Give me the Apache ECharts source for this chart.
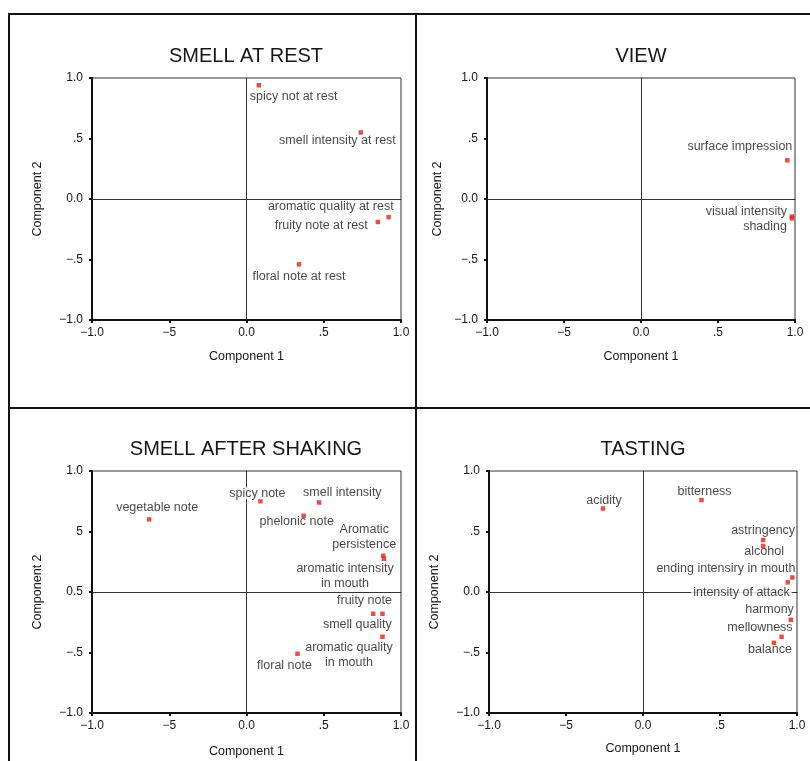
<!DOCTYPE html>
<html>
<head>
<meta charset="utf-8">
<script src="https://cdn.jsdelivr.net/npm/echarts@6/dist/echarts.min.js"></script>
<style>
  html, body { margin: 0; padding: 0; background: #fff; }
  #chart { width: 810px; height: 761px; }
</style>
</head>
<body>
<div id="chart"></div>
<script>
// Loadings on component 1 / component 2 for each group of descriptors
const restNames = ['spicy not at rest', 'smell intensity at rest', 'aromatic quality at rest', 'fruity note at rest', 'floral note at rest'];
const restC1 = [0.08, 0.74, 0.92, 0.85, 0.34];
const restC2 = [0.94, 0.55, -0.15, -0.19, -0.54];

const viewNames = ['surface impression', 'visual intensity', 'shading'];
const viewC1 = [0.95, 0.98, 0.98];
const viewC2 = [0.32, -0.145, -0.16];

const shakingNames = ['vegetable note', 'spicy note', 'smell intensity', 'phelonic note', 'Aromatic\npersistence',
  'aromatic intensity\nin mouth', 'fruity note', 'smell quality', 'aromatic quality\nin mouth', 'floral note'];
const shakingC1 = [-0.63, 0.09, 0.47, 0.37, 0.885, 0.89, 0.88, 0.82, 0.88, 0.33];
const shakingC2 = [0.60, 0.75, 0.74, 0.63, 0.30, 0.275, -0.18, -0.18, -0.37, -0.51];

const tastingNames = ['acidity', 'bitterness', 'astringency', 'alcohol', 'ending intensiry in mouth',
  'intensity of attack', 'harmony', 'mellowness', 'balance'];
const tastingC1 = [-0.26, 0.38, 0.78, 0.78, 0.97, 0.94, 0.96, 0.90, 0.85];
const tastingC2 = [0.69, 0.76, 0.43, 0.38, 0.12, 0.08, -0.23, -0.37, -0.42];

const xTickLabels = ['\u22121.0', '\u22125', '0.0', '.5', '1.0'];
const yTickLabels = ['\u22121.0', '\u2212.5', '0.0', '.5', '1.0'];
const shakingYTickLabels = ['\u22121.0', '\u2212.5', '0.5', '5', '1.0'];

const panelTitles = ['SMELL AT REST', 'VIEW', 'SMELL AFTER SHAKING', 'TASTING'];
const xAxisName = 'Component 1';
const yAxisName = 'Component 2';

// ---- layout and styling ----
const FONT = '"Liberation Sans", Arial, Helvetica, sans-serif';
const INK = '#161616';
const MARK = '#e2231a';

// label placement per point: [align, dx, dy, whiteBackground]
const restLabelPos = [['left', -9, 11], ['right', 35, 8], ['right', 5, -11], ['right', -10, 4], ['center', 0, 12]];
const viewLabelPos = [['right', 5, -14], ['right', -5, -5], ['right', -5, 8]];
const shakingLabelPos = [['center', 8, -12], ['center', -3, -8, true], ['left', -16, -10], ['center', -7, 6],
  ['center', -19, -19], ['center', -39, 17], ['center', -18, -13], ['right', 18.5, 11], ['center', -33.5, 18], ['center', -13, 12]];
const tastingLabelPos = [['center', 1, -8], ['center', 3, -8], ['center', 0, -9.5], ['center', 1, 6], ['right', 3, -8.5],
  ['right', 4, 10, true], ['right', 3, -10], ['right', 11, -9], ['right', 18, 6.5]];

const panels = [
  { names: restNames, c1: restC1, c2: restC2, pos: restLabelPos, yTicks: yTickLabels,
    grid: { left: 92, top: 78, width: 309, height: 242 }, titleX: 246, titleTop: 46, xGap: 30, yGap: 48 },
  { names: viewNames, c1: viewC1, c2: viewC2, pos: viewLabelPos, yTicks: yTickLabels,
    grid: { left: 487, top: 78, width: 308, height: 242 }, titleX: 641, titleTop: 46, xGap: 30, yGap: 43 },
  { names: shakingNames, c1: shakingC1, c2: shakingC2, pos: shakingLabelPos, yTicks: shakingYTickLabels,
    grid: { left: 92, top: 471, width: 309, height: 242 }, titleX: 246, titleTop: 439, xGap: 32, yGap: 48 },
  { names: tastingNames, c1: tastingC1, c2: tastingC2, pos: tastingLabelPos, yTicks: yTickLabels,
    grid: { left: 489, top: 471, width: 308, height: 242 }, titleX: 643, titleTop: 439, xGap: 29.5, yGap: 48 }
];

function tickFormatter(labels) {
  return v => labels[Math.round((v + 1) / 0.5)];
}

const option = {
  animation: false,
  textStyle: { fontFamily: FONT, color: INK },
  title: [], grid: [], xAxis: [], yAxis: [], series: [],
  graphic: [
    // frame around the four panels
    { type: 'line', shape: { x1: 8, y1: 14, x2: 810, y2: 14 }, style: { stroke: '#111', lineWidth: 2 } },
    { type: 'line', shape: { x1: 9, y1: 13, x2: 9, y2: 761 }, style: { stroke: '#111', lineWidth: 2 } },
    { type: 'line', shape: { x1: 416, y1: 13, x2: 416, y2: 761 }, style: { stroke: '#111', lineWidth: 2 } },
    { type: 'line', shape: { x1: 8, y1: 408, x2: 810, y2: 408 }, style: { stroke: '#111', lineWidth: 2 } }
  ]
};

panels.forEach((p, i) => {
  option.title.push({
    text: panelTitles[i], left: p.titleX, top: p.titleTop, textAlign: 'center', padding: 0,
    textStyle: { fontSize: 20, fontWeight: 'normal', color: INK, fontFamily: FONT }
  });
  option.grid.push(Object.assign({ show: true, borderColor: '#333', borderWidth: 1, backgroundColor: 'transparent' }, p.grid));

  // main axes (bottom / left) with ticks and labels
  option.xAxis.push({
    gridIndex: i, type: 'value', min: -1, max: 1, interval: 0.5, position: 'bottom',
    name: xAxisName, nameLocation: 'middle', nameGap: p.xGap,
    nameTextStyle: { fontSize: 12.5, color: INK, fontFamily: FONT },
    axisLine: { show: true, onZero: false, lineStyle: { color: '#111', width: 2 } },
    axisTick: { show: true, length: 3, lineStyle: { color: '#111', width: 2 } },
    axisLabel: { fontSize: 12, color: INK, margin: 7, formatter: tickFormatter(xTickLabels), fontFamily: FONT },
    splitLine: { show: false }
  });
  // zero reference line (horizontal)
  option.xAxis.push({
    gridIndex: i, type: 'value', min: -1, max: 1, interval: 0.5, position: 'top',
    axisLine: { show: true, onZero: true, lineStyle: { color: '#333', width: 1 } },
    axisTick: { show: false }, axisLabel: { show: false }, splitLine: { show: false }
  });
  option.yAxis.push({
    gridIndex: i, type: 'value', min: -1, max: 1, interval: 0.5, position: 'left',
    name: yAxisName, nameLocation: 'middle', nameGap: p.yGap,
    nameTextStyle: { fontSize: 12.5, color: INK, fontFamily: FONT },
    axisLine: { show: true, onZero: false, lineStyle: { color: '#111', width: 2 } },
    axisTick: { show: true, length: 3, lineStyle: { color: '#111', width: 2 } },
    axisLabel: { fontSize: 12, color: INK, margin: 9, formatter: tickFormatter(p.yTicks), fontFamily: FONT },
    splitLine: { show: false }
  });
  // zero reference line (vertical)
  option.yAxis.push({
    gridIndex: i, type: 'value', min: -1, max: 1, interval: 0.5, position: 'right',
    axisLine: { show: true, onZero: true, lineStyle: { color: '#333', width: 1 } },
    axisTick: { show: false }, axisLabel: { show: false }, splitLine: { show: false }
  });

  option.series.push({
    type: 'scatter', xAxisIndex: 2 * i, yAxisIndex: 2 * i,
    symbol: 'rect', symbolSize: 4.5, itemStyle: { color: MARK },
    emphasis: { disabled: true },
    data: p.names.map((n, k) => {
      const pos = p.pos[k];
      return {
        name: n, value: [p.c1[k], p.c2[k]],
        label: {
          show: true, formatter: '{b}', position: ['50%', '50%'],
          align: pos[0], verticalAlign: 'middle', offset: [pos[1], pos[2]],
          fontSize: 12.5, lineHeight: pos[3] ? 12 : 15, color: INK, fontFamily: FONT,
          backgroundColor: pos[3] ? '#fff' : 'transparent', padding: pos[3] ? [0, 2] : 0
        }
      };
    })
  });
});

const chart = echarts.init(document.getElementById('chart'), null, { renderer: 'canvas' });
chart.setOption(option);
</script>
</body>
</html>
